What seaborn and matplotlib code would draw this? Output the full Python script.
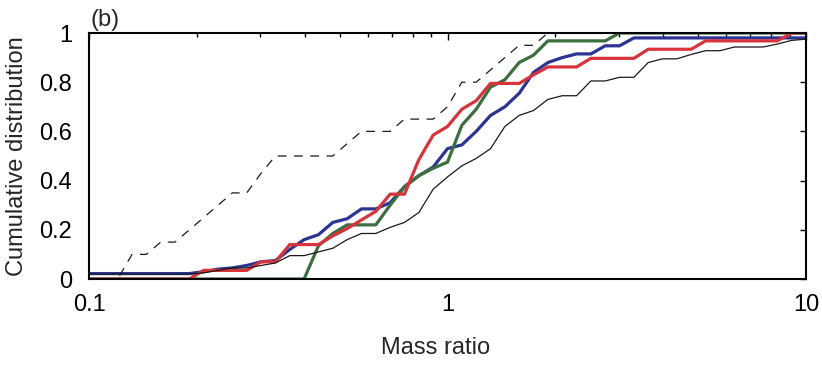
import numpy as np
import matplotlib
matplotlib.use("Agg")
import matplotlib.pyplot as plt
import seaborn as sns
from matplotlib.ticker import LogLocator, NullFormatter

# mass ratio grid (25 bins per decade, 0.1 .. 10)
mass_ratio = np.logspace(-1, 1, 51)

dashed_vals = [0, 0, 0, 0.1, 0.1, 0.15, 0.15, 0.2, 0.25, 0.3,
               0.35, 0.35, 0.43, 0.5, 0.5, 0.5, 0.5, 0.5, 0.55, 0.6,
               0.6, 0.6, 0.65, 0.65, 0.65, 0.7, 0.8, 0.8, 0.85, 0.9,
               0.95, 0.95, 1, 1, 1, 1, 1, 1, 1, 1,
               1, 1, 1, 1, 1, 1, 1, 1, 1, 1, 1]

black_vals = [0.02, 0.02, 0.02, 0.02, 0.02, 0.02, 0.02, 0.02, 0.025, 0.035,
              0.045, 0.045, 0.055, 0.065, 0.095, 0.095, 0.11, 0.125, 0.16, 0.185,
              0.185, 0.21, 0.23, 0.27, 0.365, 0.415, 0.46, 0.49, 0.53, 0.62,
              0.665, 0.685, 0.73, 0.745, 0.745, 0.805, 0.805, 0.82, 0.82, 0.88,
              0.895, 0.895, 0.913, 0.928, 0.928, 0.943, 0.943, 0.943, 0.955, 0.97, 0.975]

blue_vals = [0.022, 0.022, 0.022, 0.022, 0.022, 0.022, 0.022, 0.022, 0.03, 0.04,
             0.045, 0.055, 0.07, 0.075, 0.12, 0.16, 0.18, 0.23, 0.245, 0.285,
             0.285, 0.31, 0.375, 0.42, 0.455, 0.53, 0.545, 0.6, 0.665, 0.7,
             0.755, 0.84, 0.88, 0.9, 0.915, 0.915, 0.948, 0.948, 0.98, 0.98,
             0.98, 0.98, 0.98, 0.98, 0.98, 0.98, 0.98, 0.98, 0.98, 0.98, 0.98]

green_vals = [0, 0, 0, 0, 0, 0, 0, 0, 0, 0,
              0, 0, 0, 0, 0, 0, 0.135, 0.185, 0.22, 0.22,
              0.22, 0.3, 0.375, 0.42, 0.45, 0.475, 0.625, 0.69, 0.78, 0.81,
              0.88, 0.91, 0.968, 0.968, 0.968, 0.968, 0.968, 1, 1, 1,
              1, 1, 1, 1, 1, 1, 1, 1, 1, 1, 1]

red_vals = [0, 0, 0, 0, 0, 0, 0, 0, 0.035, 0.035,
            0.035, 0.035, 0.07, 0.07, 0.14, 0.14, 0.14, 0.175, 0.205, 0.24,
            0.275, 0.345, 0.345, 0.485, 0.585, 0.62, 0.69, 0.725, 0.795, 0.795,
            0.795, 0.83, 0.862, 0.862, 0.862, 0.897, 0.897, 0.897, 0.897, 0.934,
            0.934, 0.934, 0.934, 0.968, 0.968, 0.968, 0.968, 0.968, 0.968, 1, 1]

sns.set_style("white")
plt.rcParams['font.family'] = ['Liberation Sans', 'DejaVu Sans']
plt.rcParams['font.size'] = 17

fig = plt.figure(figsize=(8.22, 3.70), dpi=100)
ax = fig.add_axes([89 / 822, 91 / 370, 717 / 822, 246 / 370])

series = [
    (blue_vals, '#2c3393', 2.3),
    (green_vals, '#3c6e3f', 2.3),
    (red_vals, '#d8333a', 2.3),
    (black_vals, '#1a1a1a', 0.9),
    (dashed_vals, '#1a1a1a', 0.9),
]
for vals, col, lw in series:
    sns.lineplot(x=mass_ratio, y=vals, ax=ax, color=col, linewidth=lw,
                 estimator=None, sort=False)
ax.lines[-1].set_linestyle((0, (7, 6)))

ax.set_xscale('log')
ax.set_xlim(0.1, 10)
ax.set_ylim(0, 1)
ax.set_xticks([0.1, 1, 10])
ax.set_xticklabels(['0.1', '1', '10'])
ax.xaxis.set_minor_locator(LogLocator(base=10, subs=np.arange(2, 10)))
ax.xaxis.set_minor_formatter(NullFormatter())
ax.set_yticks([0, 0.2, 0.4, 0.6, 0.8, 1])
ax.set_yticklabels(['0', '0.2', '0.4', '0.6', '0.8', '1'])

ax.tick_params(which='both', direction='in', top=True, right=True,
               width=1, color='black', labelcolor='black')
ax.tick_params(axis='x', which='major', length=5, pad=11)
ax.tick_params(axis='x', which='minor', length=3)
ax.tick_params(axis='y', which='major', length=4, pad=12)

for sp in ax.spines.values():
    sp.set_color('black')
    sp.set_linewidth(1.5)

ax.set_xlabel('Mass ratio')
ax.xaxis.set_label_coords(0.483, -0.235, transform=ax.transAxes)
ax.xaxis.label.set_va('top')
ax.set_ylabel('Cumulative distribution', labelpad=8)
fig.text(90 / 822, 1 - 26 / 370, '(b)', ha='left', va='baseline')

fig.savefig('out.png', dpi=100)
